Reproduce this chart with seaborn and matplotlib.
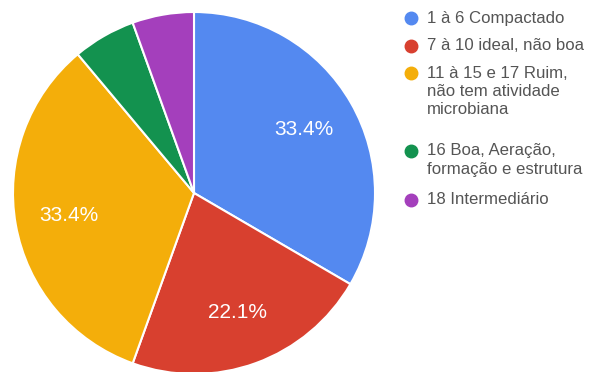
import matplotlib
matplotlib.use("Agg")
import matplotlib.pyplot as plt
import seaborn as sns
from matplotlib.lines import Line2D

categories = [
    "1 à 6 Compactado",
    "7 à 10 ideal, não boa",
    "11 à 15 e 17 Ruim,\nnão tem atividade\nmicrobiana",
    "16 Boa, Aeração,\nformação e estrutura",
    "18 Intermediário",
]
values = [33.4, 22.1, 33.4, 5.6, 5.5]
colors = ["#5489F0", "#D8402F", "#F4AE0A", "#13924F", "#A43FBC"]

sns.set_theme(style="white")
plt.rcParams['font.family'] = ['Liberation Sans', 'DejaVu Sans']

W, H = 592, 372
fig = plt.figure(figsize=(W / 100, H / 100), dpi=100)
fig.patch.set_facecolor("white")

cx, cy, r = 194, 193, 181
ax = fig.add_axes([(cx - r) / W, (H - cy - r) / H, 2 * r / W, 2 * r / H])
ax.set_facecolor("white")

wedges, texts, autotexts = ax.pie(
    values,
    colors=colors,
    startangle=90,
    counterclock=False,
    autopct=lambda p: f"{p:.1f}%" if p > 10 else "",
    pctdistance=0.7,
    wedgeprops=dict(edgecolor="white", linewidth=1.5),
    textprops=dict(color="white", fontsize=15),
)
ax.set_xlim(-1, 1)
ax.set_ylim(-1, 1)
ax.set_aspect("auto")
ax.axis("off")

# legend
entry_y = [18, 46, 73, 151, 200]
line_h = 18
for lab, col, y0 in zip(categories, colors, entry_y):
    fig.add_artist(Line2D([411 / W], [1 - y0 / H], marker="o", markersize=9,
                          color=col, markeredgecolor=col, linestyle="none",
                          transform=fig.transFigure))
    for i, line in enumerate(lab.split("\n")):
        fig.text(427 / W, 1 - (y0 + i * line_h) / H, line, fontsize=12.1,
                 color="#555555", va="center", ha="left")

fig.savefig("out.png", dpi=100)
